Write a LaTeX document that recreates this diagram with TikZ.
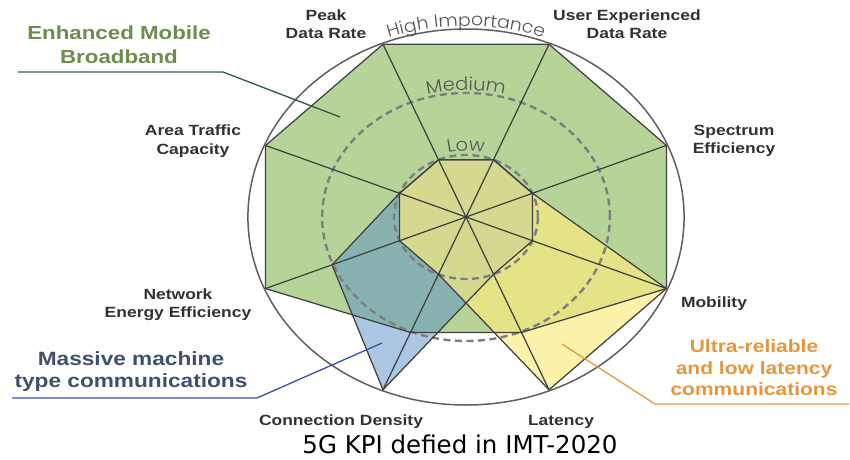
\documentclass[tikz,border=0pt]{standalone}
\usepackage{fontspec}
\setmainfont{Liberation Sans}[FakeStretch=1.18]
\newfontfamily\thinf{Poppins Light}[FakeStretch=1.08]
\newfontfamily\capf{DejaVu Sans}
\usetikzlibrary{decorations.text}
\definecolor{embbfill}{RGB}{182,212,152}
\definecolor{mmtcfill}{RGB}{89,145,201}
\definecolor{urllcfill}{RGB}{252,237,128}
\definecolor{linegrey}{RGB}{65,65,65}
\definecolor{ringgrey}{RGB}{125,125,130}
\definecolor{circgrey}{RGB}{95,95,95}
\definecolor{labgrey}{RGB}{50,50,50}
\definecolor{thingrey}{RGB}{85,85,85}
\definecolor{embbtext}{RGB}{107,142,78}
\definecolor{embbline}{RGB}{47,93,63}
\definecolor{mmtctext}{RGB}{62,80,110}
\definecolor{mmtcline}{RGB}{60,80,168}
\definecolor{urllctext}{RGB}{232,150,60}
\begin{document}
\begin{tikzpicture}[x=1pt,y=1pt,
  axislabel/.style={font=\fontsize{14.8}{18.5}\selectfont\bfseries, text=labgrey, align=center, inner sep=0pt},
  grouplabel/.style={align=center, inner sep=0pt},
  outline/.style={draw=linegrey, line width=1.25pt, line join=round},
  ring/.style={draw=ringgrey, line width=2.4pt, dash pattern=on 7pt off 4.5pt},
  leader/.style={line width=1.3pt}]
\fill[white] (0,0) rectangle (850,459);
\useasboundingbox (0,0) rectangle (850,459);
\begin{scope}[shift={(466,242)}, xscale=1.16]
  \coordinate (O) at (0,0);
  \foreach \n/\a in {pk/112.5, ue/67.5, se/22.5, mo/-22.5, la/-67.5, cd/-112.5, ne/202.5, at/157.5}{
    \coordinate (\n H) at (\a:187);
    \coordinate (\n M) at (\a:125);
    \coordinate (\n L) at (\a:62);
  }
  % fills
  \fill[embbfill] (pkH)--(ueH)--(seH)--(moH)--(laM)--(cdM)--(neH)--(atH)--cycle;
  \fill[mmtcfill, fill opacity=0.5] (pkL)--(ueL)--(seL)--(moL)--(laL)--(cdH)--(neM)--(atL)--cycle;
  \fill[urllcfill, fill opacity=0.67] (pkL)--(ueL)--(seL)--(moH)--(laH)--(cdL)--(neL)--(atL)--cycle;
  % importance rings
  \draw[ring] (O) circle[radius=124];
  \draw[ring] (O) circle[radius=62];
  % outlines
  \draw[outline] (pkH)--(ueH)--(seH)--(moH)--(laM)--(cdM)--(neH)--(atH)--cycle;
  \draw[outline] (pkL)--(ueL)--(seL)--(moL)--(laL)--(cdH)--(neM)--(atL)--cycle;
  \draw[outline] (pkL)--(ueL)--(seL)--(moH)--(laH)--(cdL)--(neL)--(atL)--cycle;
  \foreach \n in {pk,ue,se,mo,la,cd,ne,at}{
    \draw[outline] (O) -- (\n H);
  }
  \draw[circgrey, line width=1.5pt] (O) circle[radius=188];
\end{scope}
% curved level labels
\begin{scope}[shift={(466,242)}]
  \path[decorate, decoration={text along path, text align=center, text color=thingrey,
     text={|\thinf\fontsize{17.5}{18}\selectfont|High Importance}}]
     (140:222 and 191) arc[start angle=140, end angle=40, x radius=222, y radius=191];
  \path[decorate, decoration={text along path, text align=center, text color=thingrey,
     text={|\thinf\fontsize{18}{18}\selectfont|Medium}}]
     (140:147 and 127) arc[start angle=140, end angle=40, x radius=147, y radius=127];
  \path[decorate, decoration={text along path, text align=center, text color=thingrey,
     text={|\thinf\fontsize{18}{18}\selectfont|Low}}]
     (150:77 and 66) arc[start angle=150, end angle=30, x radius=77, y radius=66];
\end{scope}
% axis labels
\node[axislabel] (lpk) at (326,435) {Peak\\Data Rate};
\node[axislabel] (lue) at (627,435) {User Experienced\\Data Rate};
\node[axislabel] (lse) at (734,318) {Spectrum\\Efficiency};
\node[axislabel] (lmo) at (714,155) {Mobility};
\node[axislabel] (lla) at (561,37) {Latency};
\node[axislabel] (lcd) at (341,37) {Connection Density};
\node[axislabel] (lne) at (178,154.5) {Network\\Energy Efficiency};
\node[axislabel] (lat) at (193,318) {Area Traffic\\Capacity};
% group labels
\node[grouplabel, text=embbtext, font=\fontsize{18.9}{24}\selectfont\bfseries] (gembb) at (119,414) {Enhanced Mobile\\Broadband};
\node[grouplabel, text=mmtctext, font=\fontsize{19.2}{22}\selectfont\bfseries] (gmmtc) at (131,87) {Massive machine\\type communications};
\node[grouplabel, text=urllctext, font=\fontsize{17.8}{21.5}\selectfont\bfseries] (gurllc) at (754,91) {Ultra-reliable\\and low latency\\communications};
% leader lines
\coordinate (embbA) at (18,387);
\coordinate (embbB) at (223,387);
\coordinate (embbC) at (340,342);
\draw[leader, embbline] (embbA) -- (embbB) -- (embbC);
\coordinate (mmtcA) at (12,61);
\coordinate (mmtcB) at (257,61);
\coordinate (mmtcC) at (382,116);
\draw[leader, mmtcline] (mmtcA) -- (mmtcB) -- (mmtcC);
\coordinate (urllcA) at (849,55);
\coordinate (urllcB) at (655,55);
\coordinate (urllcC) at (562,115);
\draw[leader, urllctext] (urllcA) -- (urllcB) -- (urllcC);
% caption
\node[font=\capf\fontsize{24.5}{27}\selectfont, anchor=base, inner sep=0pt] (cap) at (460,5.5) {5G KPI defied in IMT-2020};
\end{tikzpicture}
\end{document}
